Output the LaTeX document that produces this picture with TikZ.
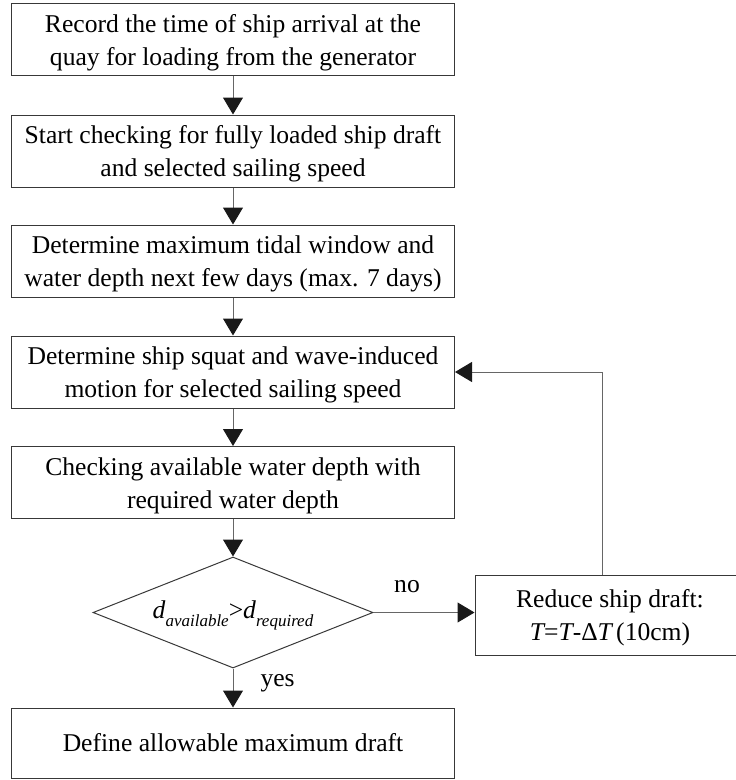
\documentclass[tikz,border=0pt]{standalone}
\usepackage{fontspec}
\setmainfont{Liberation Serif}
\usetikzlibrary{arrows.meta,shapes.geometric}

\definecolor{boxline}{gray}{0.22}
\definecolor{linegray}{gray}{0.40}
\definecolor{tipfill}{gray}{0.10}

% raises the first line of a two-line box a little
\newcommand{\firstlinestrut}{\rule{0pt}{24pt}}
% italic subscript set below the baseline
\newcommand{\lowsub}[1]{\raisebox{-8.5pt}{\fontsize{17}{18}\selectfont\itshape #1}}

\begin{document}
\begin{tikzpicture}[x=1pt,y=-1pt,
  every node/.style={font=\fontsize{25.6}{33}\selectfont},
  procbox/.style={draw=boxline,line width=1pt,minimum width=443pt,
    minimum height=72pt,align=center,inner sep=0pt},
  decbox/.style={draw=boxline,line width=1pt,diamond,aspect=2.52,
    minimum width=280pt,minimum height=111pt,inner sep=0pt,
    text height=17pt,text depth=6pt},
  flow/.style={draw=linegray,line width=1pt,
    -{Triangle[length=17pt,width=20pt,color=tipfill]}},
  tag/.style={inner sep=0pt}]

  % page frame
  \useasboundingbox (0,0) rectangle (736,780);

  % main column
  \node[procbox] (rec)   at (233,39.5)  {\firstlinestrut Record the time of ship arrival at the\\quay for loading from the generator};
  \node[procbox] (start) at (233,151)   {\firstlinestrut Start checking for fully loaded ship draft\\and selected sailing speed};
  \node[procbox] (tide)  at (233,261)   {\firstlinestrut Determine maximum tidal window and\\water depth next few days (max. 7 days)};
  \node[procbox] (squat) at (233,372)   {\firstlinestrut Determine ship squat and wave-induced\\motion for selected sailing speed};
  \node[procbox] (check) at (233,482.5) {\firstlinestrut Checking available water depth with\\required water depth};
  \node[decbox]  (dec)   at (233,612.5) {\itshape d\lowsub{available}\upshape >\itshape d\lowsub{required}};
  \node[procbox,minimum height=70pt] (final) at (233,743) {Define allowable maximum draft};

  % side branch (runs off the right edge of the page)
  \node[procbox,minimum width=270pt,minimum height=80pt] (reduce) at (610,615)
    {\firstlinestrut Reduce ship draft:\\{\itshape T}={\itshape T}-Δ{\itshape T}\,(10cm)};

  % connectors
  \draw[flow] (rec) -- (start);
  \draw[flow] (start) -- (tide);
  \draw[flow] (tide) -- (squat);
  \draw[flow] (squat) -- (check);
  \draw[flow] (check) -- (dec);
  \draw[flow] (dec.south) -- node[tag,anchor=west,xshift=27pt,yshift=5pt] (yes) {yes} (final.north);
  \draw[flow] (dec.east) -- node[tag,anchor=center,xshift=-17pt,yshift=26pt] (no) {no} (reduce.west |- dec.east);
  \draw[flow] ([xshift=-8pt]reduce.north) |- (squat.east);
\end{tikzpicture}
\end{document}
